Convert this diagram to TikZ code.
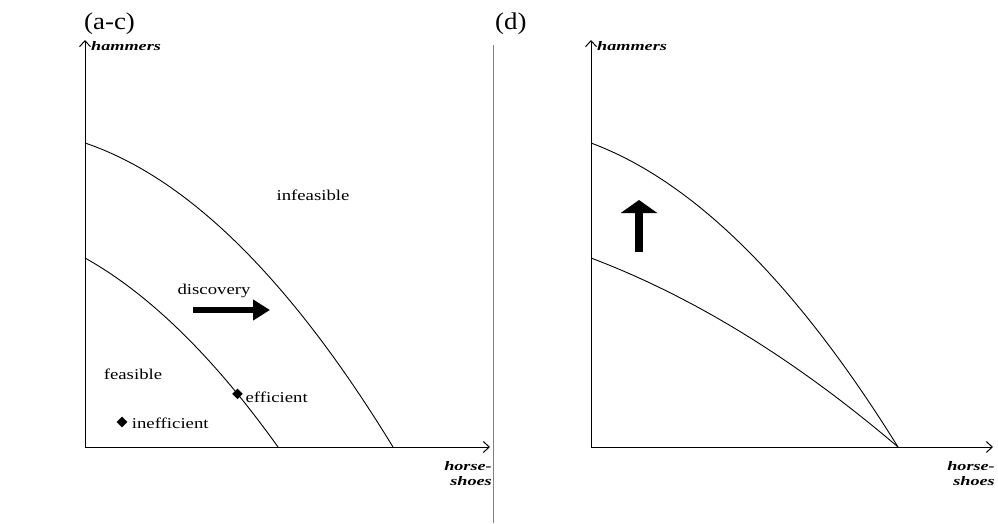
\documentclass[tikz,border=0pt]{standalone}
\usepackage{fontspec}
\setmainfont{Liberation Serif}
\newfontfamily\labelfont[FakeStretch=1.25]{Liberation Serif}
\newfontfamily\titlefont[FakeStretch=1.12]{Liberation Serif}
\newfontfamily\axisfont[FakeStretch=1.4]{Liberation Serif}
\usetikzlibrary{arrows.meta,shapes.geometric}

\begin{document}
\begin{tikzpicture}[x=1pt,y=1pt,
    axis/.style={line width=1pt,-{Straight Barb[length=6pt,width=11pt]}},
    ppf/.style={line width=0.9pt},
    tag/.style={font=\labelfont\fontsize{15}{17}\selectfont,inner sep=0pt},
    axislbl/.style={font=\axisfont\bfseries\itshape\fontsize{13}{15}\selectfont,inner sep=0pt},
    paneltitle/.style={font=\titlefont\fontsize{24}{26}\selectfont,inner sep=0pt,anchor=west},
    dot/.style={diamond,fill=black,inner sep=0pt,minimum size=11pt},
    shiftarr/.style={line width=5.5pt,-{Triangle[length=17pt,width=20pt]}},
    risearr/.style={line width=8pt,-{Triangle[length=13pt,width=36pt]}}
  ]
  \useasboundingbox (0,0) rectangle (998,523);

  % panel titles and separator
  \node[paneltitle] (t-ac) at (84,499) {(a-c)};
  \node[paneltitle] (t-d) at (495,499) {(d)};
  \coordinate (sep-top) at (493,478);
  \coordinate (sep-bot) at (493,0);
  \draw[gray,line width=0.8pt] (sep-top) -- (sep-bot);

  % left panel (a-c)
  \begin{scope}[shift={(85,76)}]
    \coordinate (l-o) at (0,0);
    \coordinate (l-ytop) at (0,407);
    \coordinate (l-xend) at (405,0);
    \draw[axis] (l-o) -- (l-ytop);
    \draw[axis] (l-o) -- (l-xend);
    \node[axislbl,anchor=north west] (l-ham) at ([xshift=6pt,yshift=-1pt]l-ytop) {hammers};
    \node[axislbl,anchor=north east,align=right] (l-hs) at ([xshift=2pt,yshift=-14pt]l-xend) {horse-\\shoes};

    \coordinate (l-out-top) at (0,304);
    \coordinate (l-out-end) at (308,0);
    \coordinate (l-in-top) at (0,189);
    \coordinate (l-in-end) at (193,0);
    \draw[ppf] (l-out-top) .. controls (102.7,269.3) and (205.3,168) .. (l-out-end);
    \draw[ppf] (l-in-top) .. controls (64.3,153) and (128.7,90) .. (l-in-end)
      node[dot,pos=0.79] (l-eff) {};

    \node[tag] (l-infeas) at (228,252) {infeasible};
    \node[tag] (l-disc) at (129,156) {discovery};
    \coordinate (l-arr-a) at (108,137);
    \coordinate (l-arr-b) at (185,137);
    \draw[shiftarr] (l-arr-a) -- (l-arr-b);
    \node[tag] (l-feas) at (48,73) {feasible};
    \node[tag,anchor=west] (l-efftxt) at ([xshift=2pt,yshift=-3pt]l-eff.east) {efficient};
    \node[dot] (l-ineff) at (37,25) {};
    \node[tag,anchor=west] (l-inefftxt) at ([xshift=4pt,yshift=-1pt]l-ineff.east) {inefficient};
  \end{scope}

  % right panel (d)
  \begin{scope}[shift={(591,76)}]
    \coordinate (r-o) at (0,0);
    \coordinate (r-ytop) at (0,407);
    \coordinate (r-xend) at (402,0);
    \draw[axis] (r-o) -- (r-ytop);
    \draw[axis] (r-o) -- (r-xend);
    \node[axislbl,anchor=north west] (r-ham) at ([xshift=6pt,yshift=-1pt]r-ytop) {hammers};
    \node[axislbl,anchor=north east,align=right] (r-hs) at ([xshift=2pt,yshift=-14pt]r-xend) {horse-\\shoes};

    \coordinate (r-out-top) at (0,304);
    \coordinate (r-in-top) at (0,189);
    \coordinate (r-end) at (307,0);
    \draw[ppf] (r-out-top) .. controls (102.3,266) and (204.7,164.7) .. (r-end);
    \draw[ppf] (r-in-top) .. controls (102.3,150.3) and (204.7,87.3) .. (r-end);

    \coordinate (r-arr-a) at (48,195);
    \coordinate (r-arr-b) at (48,247);
    \draw[risearr] (r-arr-a) -- (r-arr-b);
  \end{scope}
\end{tikzpicture}
\end{document}
